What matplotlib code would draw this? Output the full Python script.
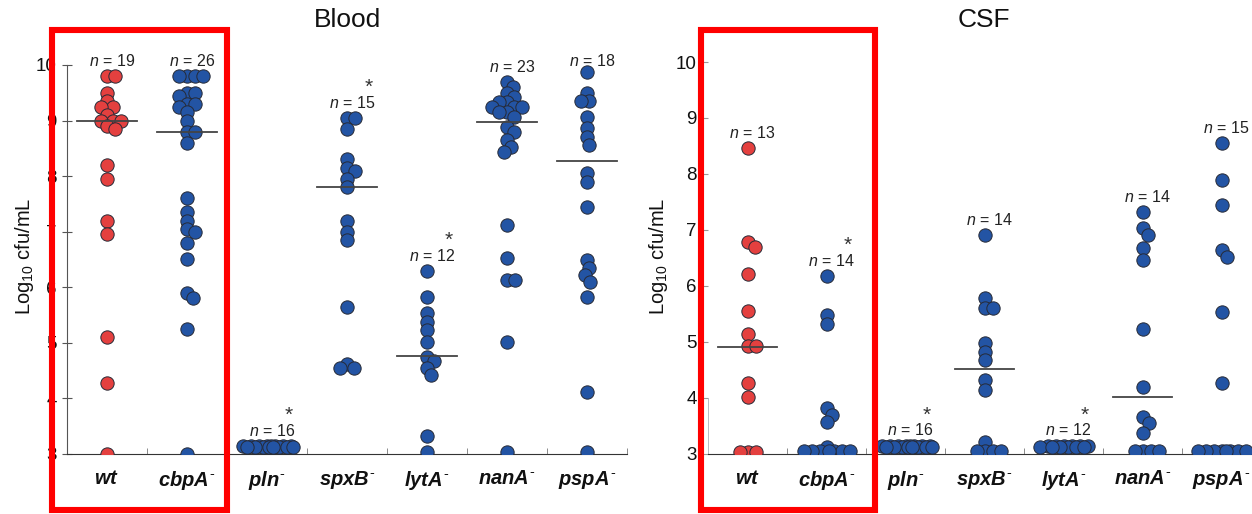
import numpy as np
import matplotlib
matplotlib.use('Agg')
import matplotlib.pyplot as plt
from matplotlib.patches import Rectangle

plt.rcParams['font.family'] = 'Liberation Sans'
plt.rcParams['mathtext.fontset'] = 'custom'
plt.rcParams['mathtext.rm'] = 'Liberation Sans'
plt.rcParams['mathtext.it'] = 'Liberation Sans:italic:bold'
plt.rcParams['mathtext.sf'] = 'Liberation Sans:italic'

strains = ['wt', 'cbpA', 'pln', 'spxB', 'lytA', 'nanA', 'pspA']

# Blood, log10 cfu/mL
blood_wt = [9.8, 9.8, 9.5, 9.35, 9.25, 9.25, 9.1, 9.0, 9.0, 9.0, 8.9, 8.85, 8.2, 7.95, 7.2, 6.95, 5.1, 4.27, 3.0]
blood_cbpA = [9.8, 9.8, 9.8, 9.8, 9.5, 9.5, 9.45, 9.3, 9.3, 9.25, 9.15, 9.0, 8.8, 8.8, 8.6,
              7.6, 7.35, 7.2, 7.05, 7.0, 6.8, 6.5, 5.9, 5.8, 5.25, 3.0]
blood_pln = [3.15, 3.15, 3.15, 3.15, 3.15, 3.15, 3.15, 3.15, 3.12, 3.12, 3.12, 3.12, 3.12, 3.12, 3.12, 3.12]
blood_spxB = [9.05, 9.05, 8.85, 8.3, 8.15, 8.1, 7.95, 7.8, 7.2, 7.0, 6.85, 5.65, 4.62, 4.55, 4.55]
blood_lytA = [6.3, 5.83, 5.53, 5.38, 5.23, 5.02, 4.75, 4.67, 4.55, 4.42, 3.33, 3.03]
blood_nanA = [9.7, 9.6, 9.5, 9.42, 9.33, 9.33, 9.25, 9.25, 9.25, 9.15, 9.15, 9.06, 8.88, 8.8, 8.65,
              8.52, 8.43, 7.12, 6.52, 6.13, 6.13, 5.02, 3.03]
blood_pspA = [9.87, 9.49, 9.35, 9.35, 9.06, 8.86, 8.7, 8.56, 8.05, 7.9, 7.44, 6.49, 6.35, 6.22, 6.1, 5.83, 4.12, 3.03]
blood_lines = [9.0, 8.8, None, 7.8, 4.76, 8.97, 8.27]
blood_star = [False, False, True, True, True, False, False]

# CSF
csf_wt = [8.46, 6.79, 6.7, 6.22, 5.55, 5.15, 4.92, 4.92, 4.26, 4.02, 3.03, 3.03, 3.03]
csf_cbpA = [6.18, 5.48, 5.33, 3.82, 3.7, 3.58, 3.13, 3.05, 3.05, 3.05, 3.05, 3.05, 3.05, 3.05]
csf_pln = [3.15, 3.15, 3.15, 3.15, 3.15, 3.15, 3.15, 3.15, 3.12, 3.12, 3.12, 3.12, 3.12, 3.12, 3.12, 3.12]
csf_spxB = [6.91, 5.79, 5.6, 5.6, 4.98, 4.83, 4.68, 4.32, 4.14, 3.21, 3.05, 3.05, 3.05, 3.05]
csf_lytA = [3.15, 3.15, 3.15, 3.15, 3.15, 3.15, 3.12, 3.12, 3.12, 3.12, 3.12, 3.12]
csf_nanA = [7.32, 7.03, 6.91, 6.67, 6.46, 5.24, 4.2, 3.66, 3.55, 3.37, 3.06, 3.06, 3.06, 3.06]
csf_pspA = [8.55, 7.89, 7.45, 6.64, 6.52, 5.54, 4.26, 3.05, 3.05, 3.05, 3.05, 3.05, 3.05, 3.05, 3.05]
csf_lines = [4.91, None, None, 4.52, None, 4.02, None]
csf_star = [False, True, True, False, True, False, False]

blood = [blood_wt, blood_cbpA, blood_pln, blood_spxB, blood_lytA, blood_nanA, blood_pspA]
csf = [csf_wt, csf_cbpA, csf_pln, csf_spxB, csf_lytA, csf_nanA, csf_pspA]

RED = '#e4403f'
BLUE = '#2354a4'


def swarm(vals, xpx, ypx, dmin=8.0, maxw=26):
    # simple beeswarm in pixel space, overlapping allowed once the band is full
    steps = np.arange(1, maxw + 1)
    cands = np.concatenate([[0], np.column_stack([steps, -steps]).ravel()])
    placed = []
    offs = []
    for v in vals:
        y = v * ypx
        best, bestd = 0, -1
        for c in cands:
            d = min([np.hypot(c - px, y - py) for px, py in placed], default=1e9)
            if d >= dmin:
                best = c
                break
            if d > bestd:
                best, bestd = c, d
        placed.append((best, y))
        offs.append(best / xpx)
    return np.array(offs)


def draw_panel(ax, groups, lines, stars, top_cap):
    ax.set_xlim(0.5, 7.5)
    ax.set_ylim(3, 10.05)
    xpx = ax.bbox.width / 7.0
    ypx = ax.bbox.height / 7.05
    for i, vals in enumerate(groups):
        vals = sorted(vals, reverse=True)
        xs = i + 1 + swarm(vals, xpx, ypx)
        ax.scatter(xs, vals, s=92, c=RED if i == 0 else BLUE,
                   edgecolors='#262a36', linewidths=0.7, zorder=3)
        if lines[i] is not None:
            ax.plot([i + 1 - 0.37, i + 1 + 0.37], [lines[i], lines[i]],
                    color='#444444', lw=1.3, zorder=4)
        ly = min(max(vals) + 0.27, top_cap)
        ax.text(i + 1.06, ly, r'$\mathsf{n}$ = %d' % len(vals), ha='center', va='center',
                fontsize=11.5, color='#222222')
        if stars[i]:
            ax.text(i + 1.27, ly + 0.27, '*', ha='center', va='center',
                    fontsize=15, color='#333333')

    ax.spines['top'].set_visible(False)
    ax.spines['right'].set_visible(False)
    ax.spines['bottom'].set_color('#333333')
    ax.set_yticks(range(3, 11))
    ax.set_xticks(range(1, 8))
    ax.set_xticks(np.arange(1.5, 8, 1), minor=True)
    labels = ['$\\mathit{wt}$'] + ['$\\mathit{%s}^{\u2010}$' % s for s in strains[1:]]
    ax.set_xticklabels(labels, fontsize=14.5, color='#111111')
    ax.tick_params(axis='x', which='major', length=0, pad=11)
    ax.tick_params(axis='x', which='minor', direction='in', length=4, color='#777777')
    ax.tick_params(axis='y', labelsize=13.5, labelcolor='#111111')
    ax.set_facecolor('none')


fig = plt.figure(figsize=(12.52, 5.14), dpi=100)

ax1 = fig.add_axes([67 / 1252, 60 / 514, 560 / 1252, 391.8 / 514])
draw_panel(ax1, blood, blood_lines, blood_star, 10.07)
ax1.spines['left'].set_bounds(3, 10)
ax1.spines['left'].set_color('#555555')
ax1.tick_params(axis='y', direction='inout', length=7, color='#555555', pad=4)

ax2 = fig.add_axes([708 / 1252, 60 / 514, 553 / 1252, 394.8 / 514])
draw_panel(ax2, csf, csf_lines, csf_star, 10.07)
ax2.spines['left'].set_bounds(3, 4)
ax2.spines['left'].set_color('#aab0b8')
ax2.spines['left'].set_linewidth(0.6)
ax2.tick_params(axis='y', direction='out', length=5, color='#999999', pad=3)

fig.text(347 / 1252, 1 - 20 / 514, 'Blood', ha='center', va='center', fontsize=19, color='#111111')
fig.text(984 / 1252, 1 - 20 / 514, 'CSF', ha='center', va='center', fontsize=19, color='#111111')
for xp in (25, 658):
    fig.text(xp / 1252, 1 - 256 / 514, r'Log$_{10}$ cfu/mL', rotation=90,
             ha='center', va='center', fontsize=14.5, color='#111111')

# red highlight boxes around wt and cbpA
for x0, x1 in ((52, 227), (701, 875)):
    fig.add_artist(Rectangle((x0 / 1252, 1 - 510 / 514), (x1 - x0) / 1252, 480 / 514,
                             transform=fig.transFigure, fill=False, ec='#ff0000',
                             lw=4.4, zorder=10))

fig.savefig('out.png', dpi=100, facecolor='white')
